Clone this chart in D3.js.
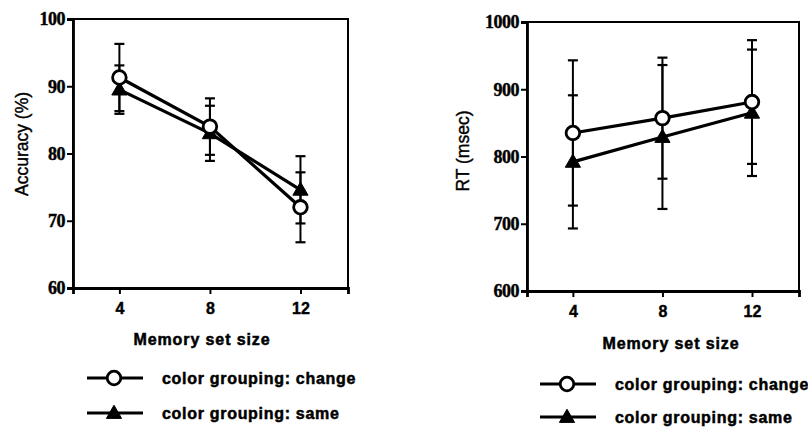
<!DOCTYPE html>
<html>
<head>
<meta charset="utf-8">
<script src="https://cdn.jsdelivr.net/npm/d3@7"></script>
<style>
  body { margin: 0; background: #fff; }
  svg { display: block; }
  .ytick text { font-family: "Liberation Serif", serif; font-weight: bold; font-size: 18px; fill: #000; stroke: #000; stroke-width: 0.4px; }
  .xtick text { font-family: "Liberation Sans", Arial, sans-serif; font-weight: bold; font-size: 16px; fill: #000; stroke: #000; stroke-width: 0.4px; }
  .title { font-family: "Liberation Sans", Arial, sans-serif; font-weight: bold; font-size: 16px; letter-spacing: 0.9px; stroke: #000; stroke-width: 0.5px; }
  .ytitle { font-family: "Liberation Sans", Arial, sans-serif; font-size: 17.5px; stroke: #000; stroke-width: 0.4px; }
  .legend text { font-family: "Liberation Sans", Arial, sans-serif; font-weight: bold; font-size: 16px; letter-spacing: 0.7px; stroke: #000; stroke-width: 0.5px; }
</style>
</head>
<body>
<div id="chart"></div>
<script>
// data
const setSizes = [4, 8, 12];
const xTicks = [4, 8, 12];

const accChange = [91.3, 84.0, 72.0];
const accChangeErr = [5.0, 4.2, 5.2];
const accSame = [89.5, 83.0, 74.6];
const accSameErr = [3.6, 4.1, 5.0];
const accTicks = [60, 70, 80, 90, 100];

const rtChange = [835, 857, 881];
const rtChangeErr = [108, 90, 92];
const rtSame = [792, 829, 865];
const rtSameErr = [99, 107, 94];
const rtTicks = [600, 700, 800, 900, 1000];

const legendLabels = ["color grouping: change", "color grouping: same"];

const W = 808, H = 428;
const svg = d3.select("#chart").append("svg")
    .attr("width", W)
    .attr("height", H);

const panels = [
    {
        left: 73, right: 348, top: 19, bottom: 288,
        yDomain: [60, 100], yTicks: accTicks, yTitle: "Accuracy (%)",
        yTitleX: 22, yTitleY: 144, xTitleX: 202, xTitleY: 345,
        change: accChange, changeErr: accChangeErr,
        same: accSame, sameErr: accSameErr,
        legend: { x: 87, y: 378, gap: 35 }
    },
    {
        left: 527, right: 799, top: 22, bottom: 291,
        yDomain: [600, 1000], yTicks: rtTicks, yTitle: "RT (msec)",
        yTitleX: 463, yTitleY: 151, xTitleX: 671, xTitleY: 349,
        change: rtChange, changeErr: rtChangeErr,
        same: rtSame, sameErr: rtSameErr,
        legend: { x: 540, y: 384, gap: 33 }
    }
];

const triangle = d3.symbol().type(d3.symbolTriangle).size(100);

function drawMarker(g, kind, x, y) {
    if (kind === "change") {
        g.append("circle")
            .attr("cx", x).attr("cy", y).attr("r", 6.8)
            .attr("fill", "#fff").attr("stroke", "#000").attr("stroke-width", 2.8);
    } else {
        g.append("path")
            .attr("d", triangle)
            .attr("transform", `translate(${x},${y + 1})`)
            .attr("fill", "#000").attr("stroke", "#000").attr("stroke-width", 1);
    }
}

panels.forEach(p => {
    const x = d3.scaleLinear().domain([1.95, 14.1]).range([p.left, p.right]);
    const y = d3.scaleLinear().domain(p.yDomain).range([p.bottom, p.top]);

    const g = svg.append("g");

    // frame
    g.append("rect")
        .attr("x", p.left).attr("y", p.top)
        .attr("width", p.right - p.left).attr("height", p.bottom - p.top)
        .attr("fill", "none").attr("stroke", "#000").attr("stroke-width", 2);

    // y axis
    const yAxis = g.append("g")
        .attr("class", "ytick")
        .attr("transform", `translate(${p.left},0)`)
        .call(d3.axisLeft(y).tickValues(p.yTicks).tickSize(6).tickPadding(2).tickFormat(d3.format("d")));
    yAxis.select(".domain").attr("stroke-width", 2.8);
    yAxis.selectAll(".tick line").attr("stroke-width", 2);
    yAxis.selectAll("text").attr("letter-spacing", "-0.5px");

    // x axis
    const xAxis = g.append("g")
        .attr("class", "xtick")
        .attr("transform", `translate(0,${p.bottom})`)
        .call(d3.axisBottom(x).tickValues(xTicks).tickSize(6).tickPadding(9).tickFormat(d3.format("d")));
    xAxis.select(".domain").attr("stroke-width", 2.8);
    xAxis.selectAll(".tick line").attr("stroke-width", 2);

    // titles
    g.append("text")
        .attr("class", "title")
        .attr("x", p.xTitleX).attr("y", p.xTitleY)
        .attr("text-anchor", "middle")
        .text("Memory set size");
    g.append("text")
        .attr("class", "ytitle")
        .attr("transform", `translate(${p.yTitleX},${p.yTitleY}) rotate(-90)`)
        .attr("text-anchor", "middle")
        .attr("dy", "0.35em")
        .text(p.yTitle);

    const series = [
        { kind: "same", vals: p.same, err: p.sameErr },
        { kind: "change", vals: p.change, err: p.changeErr }
    ];

    // error bars
    series.forEach(s => {
        s.vals.forEach((v, i) => {
            const cx = x(setSizes[i]);
            const lo = y(v - s.err[i]), hi = y(v + s.err[i]);
            g.append("line")
                .attr("x1", cx).attr("x2", cx).attr("y1", lo).attr("y2", hi)
                .attr("stroke", "#000").attr("stroke-width", 2);
            [lo, hi].forEach(yy => {
                g.append("line")
                    .attr("x1", cx - 5).attr("x2", cx + 5).attr("y1", yy).attr("y2", yy)
                    .attr("stroke", "#000").attr("stroke-width", 2.2);
            });
        });
    });

    // lines
    const line = d3.line().x((d, i) => x(setSizes[i])).y(d => y(d));
    series.forEach(s => {
        g.append("path")
            .datum(s.vals)
            .attr("d", line)
            .attr("fill", "none").attr("stroke", "#000").attr("stroke-width", 3.2);
    });

    // markers
    series.forEach(s => {
        s.vals.forEach((v, i) => drawMarker(g, s.kind, x(setSizes[i]), y(v)));
    });

    // legend
    const lg = g.append("g").attr("class", "legend");
    ["change", "same"].forEach((kind, i) => {
        const ly = p.legend.y + i * p.legend.gap;
        lg.append("line")
            .attr("x1", p.legend.x).attr("x2", p.legend.x + 56)
            .attr("y1", ly).attr("y2", ly)
            .attr("stroke", "#000").attr("stroke-width", 2.8);
        drawMarker(lg, kind, p.legend.x + 27, ly);
        lg.append("text")
            .attr("x", p.legend.x + 75).attr("y", ly)
            .attr("dy", "0.35em")
            .text(legendLabels[i]);
    });
});
</script>
</body>
</html>
